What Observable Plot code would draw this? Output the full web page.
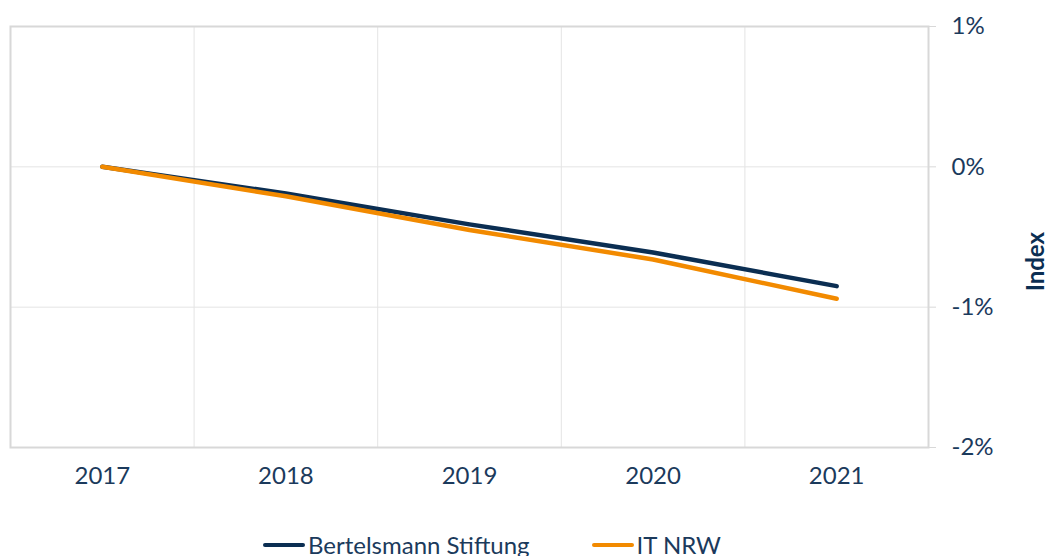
<!DOCTYPE html>
<html>
<head>
<meta charset="utf-8">
<script src="https://cdn.jsdelivr.net/npm/d3@7"></script>
<script src="https://cdn.jsdelivr.net/npm/@observablehq/plot@0.6"></script>
<style>
  body { margin: 0; background: #fff; font-family: Lato, "Open Sans", sans-serif; color: #1b3a5c; position: relative; width: 1047px; height: 556px; overflow: hidden; }
  #chart svg { display: block; }
  .legend { position: absolute; left: 263px; top: 530px; display: flex; align-items: center; font-size: 24px; line-height: 30px; white-space: nowrap; }
  .item { display: flex; align-items: center; }
  .item + .item { margin-left: 62px; }
  .sw { width: 42px; height: 4px; border-radius: 2px; margin-right: 3px; }
</style>
</head>
<body>
<div id="chart"></div>
<div class="legend">
  <div class="item"><span class="sw" style="background:#0b2e52"></span>Bertelsmann Stiftung</div>
  <div class="item"><span class="sw" style="background:#f28a00"></span>IT NRW</div>
</div>
<script>
const years = [2017, 2018, 2019, 2020, 2021];
const bertelsmann = [0, -0.19, -0.41, -0.61, -0.85];
const itnrw = [0, -0.21, -0.45, -0.66, -0.94];
const yTicks = [1, 0, -1, -2];
const xGridTicks = [2017.5, 2018.5, 2019.5, 2020.5];
const seriesNames = ["Bertelsmann Stiftung", "IT NRW"];
const seriesColors = ["#0b2e52", "#f28a00"];

const rowsB = years.map((yr, i) => ({year: yr, value: bertelsmann[i]}));
const rowsI = years.map((yr, i) => ({year: yr, value: itnrw[i]}));

const chart = Plot.plot({
  width: 1047,
  height: 500,
  marginLeft: 10,
  marginRight: 119,
  marginTop: 26,
  marginBottom: 53,
  x: {domain: [2016.5, 2021.5]},
  y: {domain: [-2, 1]},
  style: {fontFamily: "Lato, 'Open Sans', sans-serif", fontSize: "24px", color: "#1b3a5c", background: "#fff"},
  marks: [
    Plot.gridX(xGridTicks, {stroke: "#e4e4e4", strokeOpacity: 1}),
    Plot.gridY([0, -1], {stroke: "#e4e4e4", strokeOpacity: 1}),
    Plot.frame({stroke: "#d8d8d8", strokeWidth: 2}),
    Plot.axisX(years, {tickSize: 0, tickPadding: 19, fontSize: 24, tickFormat: d => String(d), label: null, fill: "#1b3a5c"}),
    Plot.axisY(yTicks, {anchor: "right", tickSize: 7, tickPadding: 16, fontSize: 24, stroke: "#d8d8d8", fill: "#1b3a5c", tickFormat: d => d + "%", label: null}),
    Plot.text(["Index"], {frameAnchor: "right", dx: 108, dy: -5, rotate: -90, fontWeight: "bold", fontSize: 24, fill: "#0b2e52"}),
    Plot.line(rowsB, {x: "year", y: "value", stroke: seriesColors[0], strokeWidth: 4.5, strokeLinecap: "round", strokeLinejoin: "round"}),
    Plot.line(rowsI, {x: "year", y: "value", stroke: seriesColors[1], strokeWidth: 4.5, strokeLinecap: "round", strokeLinejoin: "round"})
  ]
});
document.getElementById("chart").appendChild(chart);
</script>
</body>
</html>
